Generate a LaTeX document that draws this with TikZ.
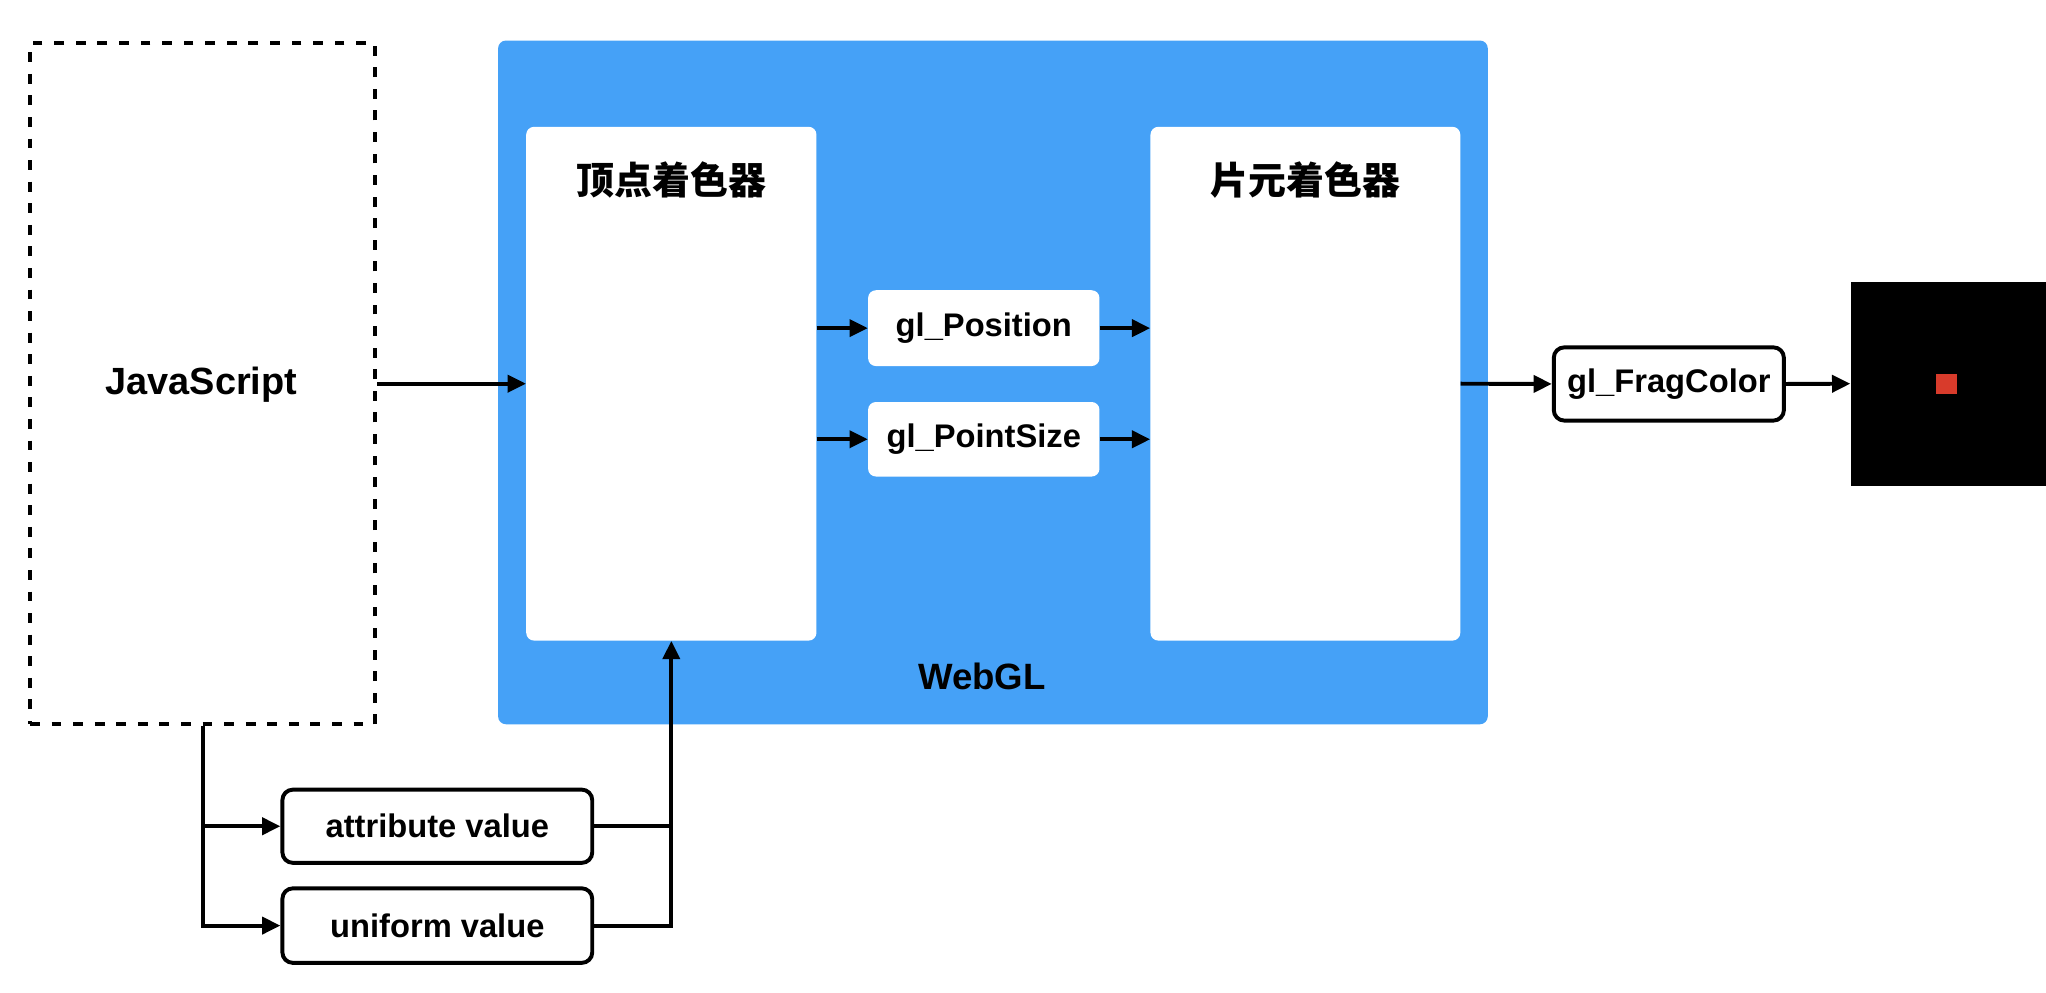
\documentclass[tikz,border=0pt]{standalone}
\usepackage{fontspec}
\setmainfont{Liberation Sans}
\newfontfamily\cjk{Noto Sans CJK SC}
\usepackage{tikz}
\usetikzlibrary{arrows.meta}
\definecolor{glblue}{HTML}{45A1F7}
\definecolor{pixred}{HTML}{D83B2B}

\begin{document}
\begin{tikzpicture}[x=1pt,y=-1pt,
  every node/.style={font=\bfseries\fontsize{25}{30}\selectfont,inner sep=0pt},
  title/.style={font=\cjk\bfseries\fontsize{29}{34}\selectfont},
  arr/.style={line width=3pt,-{Triangle[length=14pt,width=13pt]}},
  wire/.style={line width=3pt},
  panel/.style={fill=white,rounded corners=6pt},
  valbox/.style={draw,line width=3pt,rounded corners=8pt,fill=white}]
\useasboundingbox (0,0) rectangle (1565,759);
% javascript side
\node[draw,line width=3pt,dash pattern=on 7.5pt off 9pt,minimum width=264pt,minimum height=521pt] (js) at (155,293.5) {};
\node[font=\bfseries\fontsize{29}{34}\selectfont] (jstext) at (154,294) {JavaScript};
% webgl block
\node[fill=glblue,rounded corners=6pt,minimum width=757pt,minimum height=523pt] (webgl) at (759.5,292.5) {};
\node[font=\bfseries\fontsize{28}{34}\selectfont] (webgltext) at (751,517.5) {WebGL};
\node[panel,minimum width=222pt,minimum height=393pt] (vs) at (513.5,293.5) {};
\node[title] (vstitle) at (513.5,138) {顶点着色器};
\node[panel,minimum width=237pt,minimum height=393pt] (fs) at (998.5,293.5) {};
\node[title] (fstitle) at (998.5,138) {片元着色器};
\node[panel,minimum width=177pt,minimum height=58pt] (pos) at (752.5,251) {gl\_Position};
\node[panel,minimum width=177pt,minimum height=57pt] (psize) at (752.5,336) {gl\_PointSize};
% output
\node[valbox,minimum width=176pt,minimum height=56pt] (frag) at (1276.5,293.7) {gl\_FragColor};
\node[fill=black,minimum width=155pt,minimum height=156pt] (screen) at (1493,293.5) {};
\node[fill=pixred,minimum size=16pt] (pixel) at (1489,293.7) {};
% values
\node[valbox,minimum width=237pt,minimum height=56pt] (attr) at (334.5,632) {attribute value};
\node[valbox,minimum width=237pt,minimum height=57pt] (uniform) at (334.5,708) {uniform value};

\draw[arr] (js.east) -- (vs.west);
\draw[arr] (vs.east |- pos.west) -- (pos.west);
\draw[arr] (vs.east |- psize.west) -- (psize.west);
\draw[arr] (pos.east) -- (pos.east -| fs.west);
\draw[arr] (psize.east) -- (psize.east -| fs.west);
\draw[arr] (fs.east) -- (frag.west);
\draw[arr] (frag.east) -- (screen.west);
\draw[arr] (js.south) |- (uniform.west);
\draw[arr] (js.south |- attr.west) -- (attr.west);
\draw[wire] (attr.east) -- (attr.east -| vs.south);
\draw[arr] (uniform.east) -| (vs.south);
\end{tikzpicture}
\end{document}
